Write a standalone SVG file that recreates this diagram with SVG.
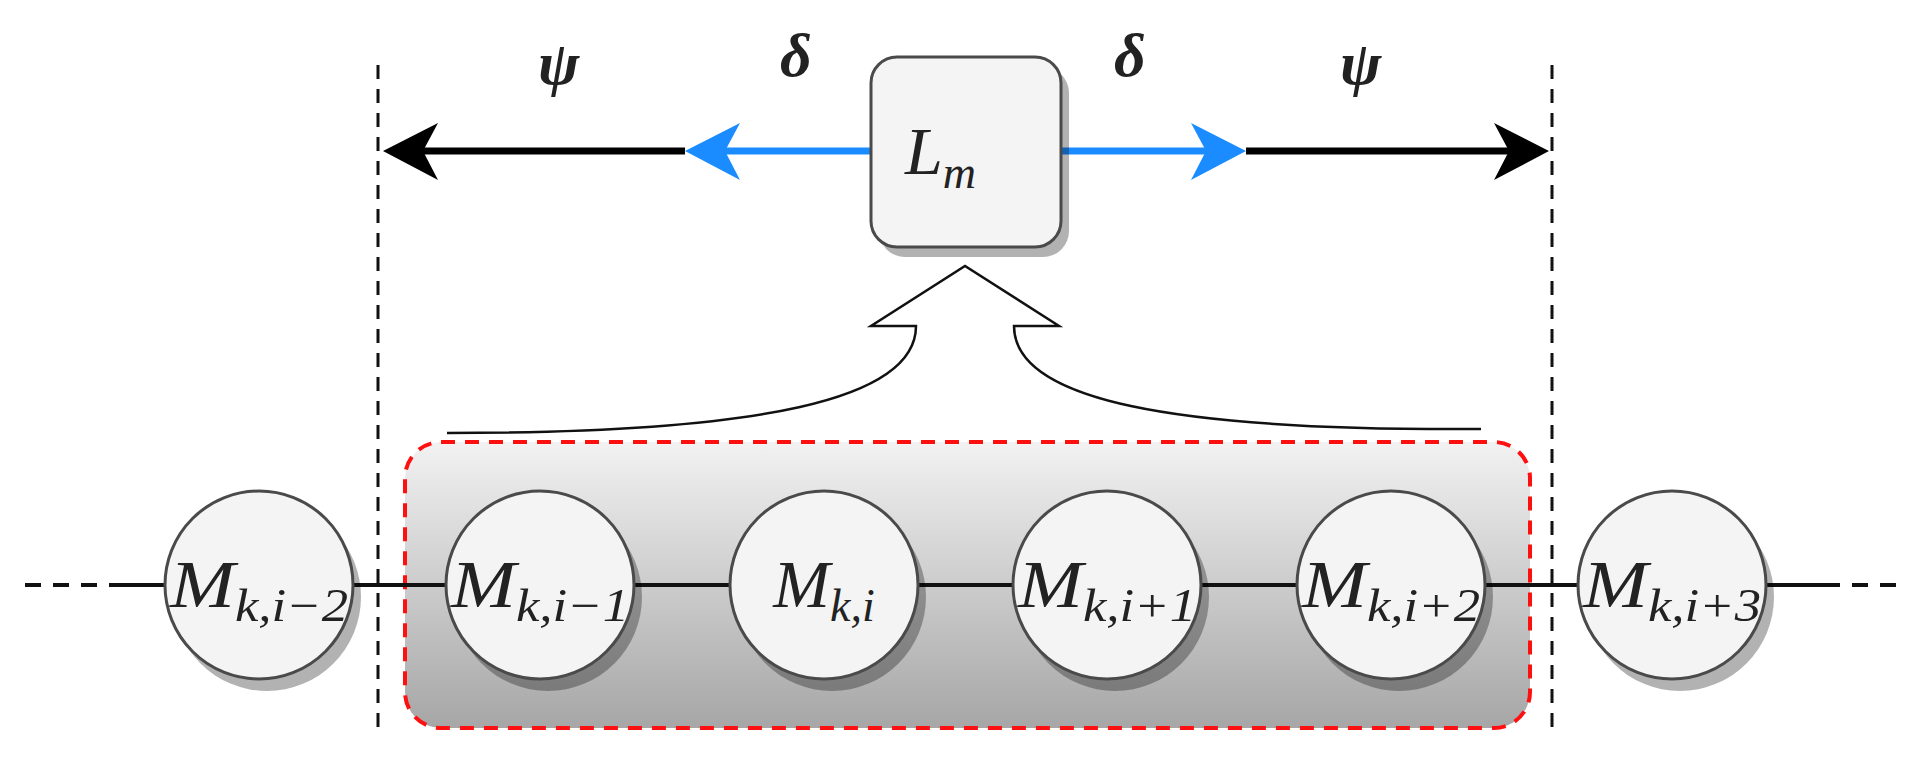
<svg xmlns="http://www.w3.org/2000/svg" width="1925" height="757" viewBox="0 0 1925 757">
<style>
.node{fill:#f4f4f4;stroke:#4a4a4a;stroke-width:3}
.sh{fill:#000;opacity:0.3}
.t{font-family:"Liberation Serif",serif;font-style:italic;fill:#222}
.m{font-size:68px}
.s{font-size:46px}
.vd{stroke:#111;stroke-width:3;stroke-dasharray:14,10}
</style>
<defs>
<linearGradient id="g" x1="0" y1="0" x2="0" y2="1"><stop offset="0" stop-color="#f2f2f2"/><stop offset="1" stop-color="#a6a6a6"/></linearGradient>
</defs>
<rect x="405" y="442" width="1125" height="286" rx="36" fill="url(#g)" stroke="#ff1010" stroke-width="4" stroke-dasharray="14,10"/>
<g id="connectors">
<line x1="25" y1="585" x2="111" y2="585" stroke="#111" stroke-width="4" stroke-dasharray="16,12"/>
<line x1="111" y1="585" x2="1824" y2="585" stroke="#111" stroke-width="4"/>
<line x1="1824" y1="585" x2="1907" y2="585" stroke="#111" stroke-width="4" stroke-dasharray="16,12"/>
<line class="vd" x1="378" y1="65" x2="378" y2="728"/>
<line class="vd" x1="1552" y1="65" x2="1552" y2="728"/>
<line x1="871" y1="151" x2="720" y2="151" stroke="#1a8cff" stroke-width="7"/>
<polygon points="685,151 740,123 725,151 740,180" fill="#1a8cff"/>
<line x1="685" y1="151" x2="420" y2="151" stroke="#000" stroke-width="7"/>
<polygon points="383,151 438,123 423,151 438,180" fill="#000"/>
<line x1="1061" y1="151" x2="1215" y2="151" stroke="#1a8cff" stroke-width="7"/>
<polygon points="1246,151 1191,123 1206,151 1191,180" fill="#1a8cff"/>
<line x1="1246" y1="151" x2="1515" y2="151" stroke="#000" stroke-width="7"/>
<polygon points="1549,151 1494,123 1509,151 1494,180" fill="#000"/>
<path d="M447,433 C760,433 916,400 916,326 L871,326 L965,266 L1059,326 L1014,326 C1014,400 1170,431 1481,429" fill="#fff" stroke="#111" stroke-width="2.5"/>
</g>
<g class="t" font-size="62" font-weight="bold">
<text x="538" y="84">ψ</text><text x="780" y="76">δ</text><text x="1114" y="76">δ</text><text x="1340" y="84">ψ</text>
</g>
<g id="Lm">
<rect class="sh" x="879" y="67" width="190" height="190" rx="26"/>
<rect class="node" x="871" y="57" width="190" height="190" rx="26"/>
<text class="t" x="905" y="174" font-size="68">L<tspan class="s" dy="14">m</tspan></text>
</g>
<g id="n1"><circle class="sh" cx="267" cy="597" r="94"/><circle class="node" cx="259" cy="585" r="94"/><text class="t" x="259" y="607" text-anchor="middle" textLength="178" lengthAdjust="spacingAndGlyphs"><tspan class="m">M</tspan><tspan class="s" dy="14">k,i−2</tspan></text></g>
<g id="n2"><circle class="sh" cx="548" cy="597" r="94"/><circle class="node" cx="540" cy="585" r="94"/><text class="t" x="540" y="607" text-anchor="middle" textLength="178" lengthAdjust="spacingAndGlyphs"><tspan class="m">M</tspan><tspan class="s" dy="14">k,i−1</tspan></text></g>
<g id="n3"><circle class="sh" cx="832" cy="597" r="94"/><circle class="node" cx="824" cy="585" r="94"/><text class="t" x="824" y="607" text-anchor="middle"><tspan class="m">M</tspan><tspan class="s" dy="14">k,i</tspan></text></g>
<g id="n4"><circle class="sh" cx="1115" cy="597" r="94"/><circle class="node" cx="1107" cy="585" r="94"/><text class="t" x="1107" y="607" text-anchor="middle" textLength="178" lengthAdjust="spacingAndGlyphs"><tspan class="m">M</tspan><tspan class="s" dy="14">k,i+1</tspan></text></g>
<g id="n5"><circle class="sh" cx="1399" cy="597" r="94"/><circle class="node" cx="1391" cy="585" r="94"/><text class="t" x="1391" y="607" text-anchor="middle" textLength="178" lengthAdjust="spacingAndGlyphs"><tspan class="m">M</tspan><tspan class="s" dy="14">k,i+2</tspan></text></g>
<g id="n6"><circle class="sh" cx="1680" cy="597" r="94"/><circle class="node" cx="1672" cy="585" r="94"/><text class="t" x="1672" y="607" text-anchor="middle" textLength="178" lengthAdjust="spacingAndGlyphs"><tspan class="m">M</tspan><tspan class="s" dy="14">k,i+3</tspan></text></g>
</svg>
